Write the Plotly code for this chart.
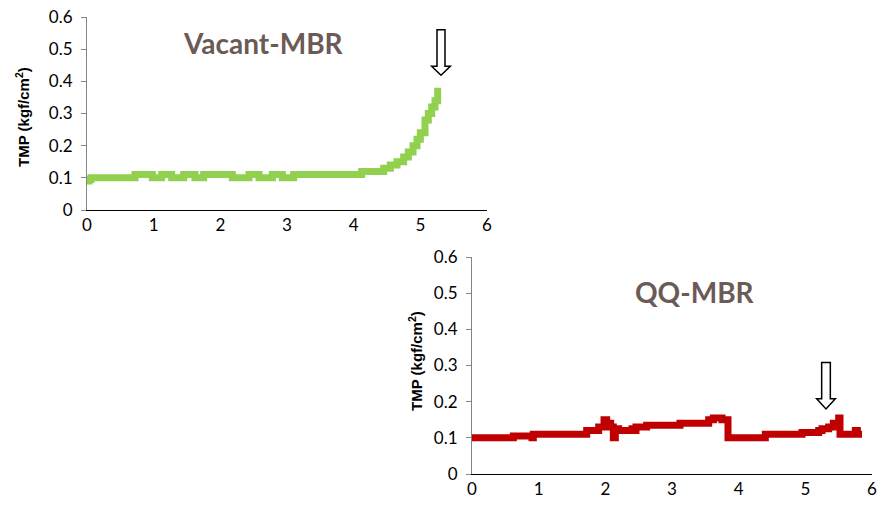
import plotly.graph_objects as go

# ---- data ----
vacant_x = [0, 0.03, 0.06, 0.7, 0.72, 0.95, 0.98, 1.1, 1.12, 1.25, 1.27, 1.42, 1.45, 1.6, 1.62, 1.75,
            2.15, 2.18, 2.4, 2.43, 2.55, 2.58, 2.75, 2.78, 2.9, 2.93, 3.1, 3.5, 4.1, 4.12, 4.3, 4.45,
            4.55, 4.65, 4.75, 4.82, 4.89, 4.95, 5.0, 5.07, 5.12, 5.17, 5.22, 5.26]
vacant_y = [0.09, 0.095, 0.1, 0.1, 0.11, 0.11, 0.1, 0.1, 0.11, 0.11, 0.1, 0.1, 0.11, 0.11, 0.1, 0.11,
            0.11, 0.1, 0.1, 0.11, 0.11, 0.1, 0.1, 0.11, 0.11, 0.1, 0.11, 0.11, 0.11, 0.12, 0.12, 0.13,
            0.14, 0.15, 0.165, 0.18, 0.2, 0.22, 0.24, 0.28, 0.3, 0.32, 0.34, 0.38]

qq_x = [0, 0.6, 0.62, 0.88, 0.9, 0.92, 1.0, 1.7, 1.72, 1.85, 1.9, 1.98, 2.02, 2.08, 2.12, 2.15, 2.2,
        2.4, 2.43, 2.46, 2.6, 2.62, 3.1, 3.12, 3.5, 3.55, 3.62, 3.7, 3.75, 3.82, 3.84, 4.35, 4.4,
        4.9, 4.95, 5.2, 5.25, 5.35, 5.42, 5.5, 5.52, 5.72, 5.75, 5.78, 5.85]
qq_y = [0.1, 0.1, 0.105, 0.105, 0.1, 0.11, 0.11, 0.11, 0.12, 0.12, 0.13, 0.15, 0.14, 0.13, 0.1, 0.125, 0.12,
        0.125, 0.12, 0.13, 0.13, 0.135, 0.135, 0.14, 0.14, 0.15, 0.155, 0.155, 0.15, 0.15, 0.1, 0.1, 0.11,
        0.11, 0.115, 0.12, 0.125, 0.13, 0.14, 0.155, 0.11, 0.11, 0.12, 0.11, 0.11]

x_ticks = [0, 1, 2, 3, 4, 5, 6]
y_ticks = [0, 0.1, 0.2, 0.3, 0.4, 0.5, 0.6]
y_tick_text = ["0", "0.1", "0.2", "0.3", "0.4", "0.5", "0.6"]

titles = ["Vacant-MBR", "QQ-MBR"]
y_title = "TMP (kgf/cm<sup>2</sup>)"

GREEN = "#92D050"
RED = "#C00000"
TITLE_COLOR = "#6B5A55"
TICK_FONT = dict(family="Lato, Open Sans, sans-serif", size=17, color="black")

fig = go.Figure()
fig.add_trace(go.Scatter(x=vacant_x, y=vacant_y, mode="lines", line=dict(color=GREEN, width=7, shape="hv"),
                         xaxis="x", yaxis="y", showlegend=False))
fig.add_trace(go.Scatter(x=qq_x, y=qq_y, mode="lines", line=dict(color=RED, width=7, shape="hv"),
                         xaxis="x2", yaxis="y2", showlegend=False))

W, H = 892, 515


def xdom(p0, p1):
    return [p0 / W, p1 / W]


def ydom(ptop, pbot):
    return [1 - pbot / H, 1 - ptop / H]


xa = dict(range=[0, 6], tickvals=x_ticks, ticks="", showline=True, linecolor="black", linewidth=1,
          showgrid=False, zeroline=False, tickfont=TICK_FONT, fixedrange=True, automargin=False)
ya = dict(range=[0, 0.6], tickvals=y_ticks, ticktext=y_tick_text, ticks="outside", ticklen=5,
          tickcolor="#868686", showline=True, linecolor="#868686", linewidth=1, showgrid=False,
          zeroline=False, tickfont=TICK_FONT, fixedrange=True, automargin=False, ticklabelstandoff=5)

fig.update_layout(
    width=W, height=H, margin=dict(l=0, r=0, t=0, b=0),
    paper_bgcolor="white", plot_bgcolor="white",
    xaxis=dict(xa, domain=xdom(87, 487), anchor="y"),
    yaxis=dict(ya, domain=ydom(17, 210), anchor="x"),
    xaxis2=dict(xa, domain=xdom(472, 872), anchor="y2"),
    yaxis2=dict(ya, domain=ydom(257, 474), anchor="x2"),
)

# chart titles
fig.add_annotation(text="<b>" + titles[0] + "</b>", x=263 / W, y=1 - 43 / H, xref="paper", yref="paper",
                   xanchor="center", yanchor="middle", showarrow=False,
                   font=dict(family="Lato, sans-serif", size=28, color=TITLE_COLOR))
fig.add_annotation(text="<b>" + titles[1] + "</b>", x=695 / W, y=1 - 292 / H, xref="paper", yref="paper",
                   xanchor="center", yanchor="middle", showarrow=False,
                   font=dict(family="Lato, sans-serif", size=28, color=TITLE_COLOR))

# y-axis titles
for xp, yp in [(23, 117), (415, 361)]:
    fig.add_annotation(text="<b>" + y_title + "</b>", x=xp / W, y=1 - yp / H, xref="paper", yref="paper",
                       xanchor="center", yanchor="middle", showarrow=False, textangle=-90,
                       font=dict(family="Liberation Sans, Arial, sans-serif", size=15, color="black"))


def arrow_path(xc, y_tip, y_neck, y_top, hw_shaft, hw_head):
    pts = [(xc - hw_shaft, y_top), (xc + hw_shaft, y_top), (xc + hw_shaft, y_neck), (xc + hw_head, y_neck),
           (xc, y_tip), (xc - hw_head, y_neck), (xc - hw_shaft, y_neck)]
    return "M " + " L ".join(f"{a},{b}" for a, b in pts) + " Z"


fig.add_shape(type="path", xref="x", yref="y", path=arrow_path(5.31, 0.419, 0.447, 0.56, 0.06, 0.14),
              line=dict(color="black", width=1.5), fillcolor="white")
fig.add_shape(type="path", xref="x2", yref="y2", path=arrow_path(5.31, 0.18, 0.208, 0.308, 0.065, 0.14),
              line=dict(color="black", width=1.5), fillcolor="white")

fig.write_html("out.html", config={"displayModeBar": False},
               post_script="document.body.style.margin='0';")
